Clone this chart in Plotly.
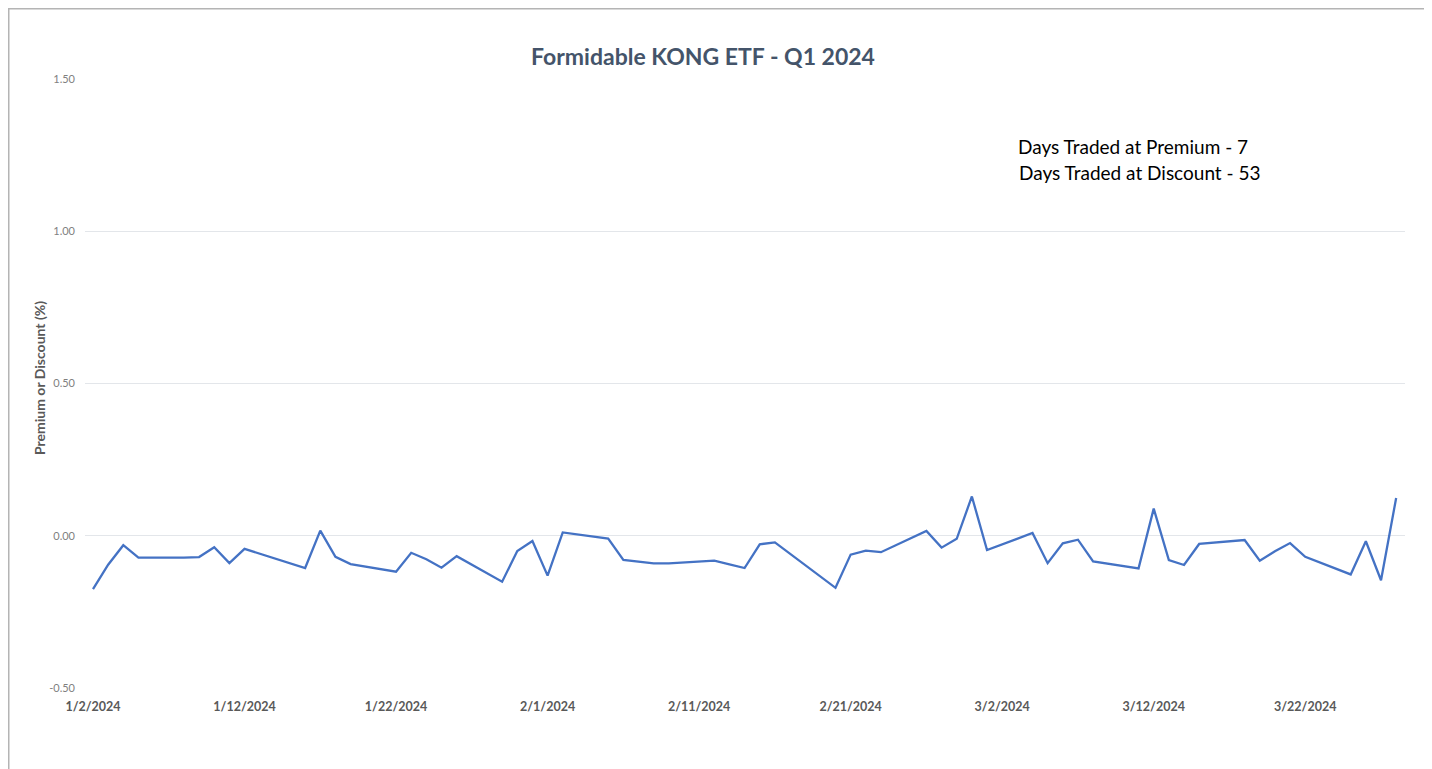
import plotly.graph_objects as go

dates = [
    "2024-01-02", "2024-01-03", "2024-01-04", "2024-01-05", "2024-01-08", "2024-01-09",
    "2024-01-10", "2024-01-11", "2024-01-12", "2024-01-16", "2024-01-17", "2024-01-18",
    "2024-01-19", "2024-01-22", "2024-01-23", "2024-01-24", "2024-01-25", "2024-01-26",
    "2024-01-29", "2024-01-30", "2024-01-31",
    "2024-02-01", "2024-02-02", "2024-02-05", "2024-02-06", "2024-02-07", "2024-02-08",
    "2024-02-09", "2024-02-12", "2024-02-13", "2024-02-14", "2024-02-15", "2024-02-16",
    "2024-02-20", "2024-02-21", "2024-02-22", "2024-02-23", "2024-02-26", "2024-02-27",
    "2024-02-28", "2024-02-29",
    "2024-03-01", "2024-03-04", "2024-03-05", "2024-03-06", "2024-03-07", "2024-03-08",
    "2024-03-11", "2024-03-12", "2024-03-13", "2024-03-14", "2024-03-15", "2024-03-18",
    "2024-03-19", "2024-03-20", "2024-03-21", "2024-03-22", "2024-03-25", "2024-03-26",
    "2024-03-27", "2024-03-28",
]

premium_discount = [
    -0.175, -0.095, -0.031, -0.072, -0.072, -0.070,
    -0.038, -0.090, -0.043, -0.106, 0.017, -0.069,
    -0.093, -0.118, -0.056, -0.077, -0.105, -0.067,
    -0.151, -0.050, -0.017,
    -0.131, 0.011, -0.009, -0.079, -0.086, -0.091,
    -0.091, -0.082, -0.094, -0.106, -0.028, -0.022,
    -0.171, -0.062, -0.049, -0.054, 0.016, -0.039,
    -0.010, 0.129,
    -0.047, 0.009, -0.090, -0.025, -0.013, -0.084,
    -0.107, 0.089, -0.080, -0.096, -0.027, -0.014,
    -0.082, -0.051, -0.024, -0.069, -0.127, -0.018,
    -0.146, 0.124,
]

x_tick_vals = ["2024-01-02", "2024-01-12", "2024-01-22", "2024-02-01", "2024-02-11",
               "2024-02-21", "2024-03-02", "2024-03-12", "2024-03-22"]
x_tick_text = ["1/2/2024", "1/12/2024", "1/22/2024", "2/1/2024", "2/11/2024",
               "2/21/2024", "3/2/2024", "3/12/2024", "3/22/2024"]
y_tick_vals = [-0.5, 0.0, 0.5, 1.0, 1.5]
y_tick_text = ["-0.50", "0.00", "0.50", "1.00", "1.50"]

title_text = "Formidable KONG ETF - Q1 2024"
y_title = "Premium or Discount (%)"
note_lines = ["Days Traded at Premium - 7", "Days Traded at Discount - 53"]

# page has an 8px body margin: work in figure pixel coords (= screen - 8)
W, H = 1418, 761
L, T = 77, 71
PR, PB = 1397, 680  # plot right / bottom in figure px
R, B = W - PR, H - PB
pw, ph = PR - L, PB - T

def px_x(p):
    return (p - L) / pw

def px_y(p):
    return (PB - p) / ph

FONT = "Lato, 'Open Sans', sans-serif"

fig = go.Figure()
fig.add_trace(go.Scatter(
    x=dates, y=premium_discount, mode="lines",
    line=dict(color="#4472C4", width=2.3),
    hoverinfo="x+y", showlegend=False,
))

fig.update_layout(
    width=W, height=H,
    margin=dict(l=L, r=R, t=T, b=B),
    paper_bgcolor="white", plot_bgcolor="white",
    font=dict(family=FONT),
    title=dict(text="<b>" + title_text + "</b>", x=px_x(695),
               xref="paper", xanchor="center",
               y=1 - 49 / H, yanchor="middle",
               font=dict(size=23, color="#44546A", family=FONT)),
    xaxis=dict(
        type="date",
        range=["2024-01-01 11:20", "2024-03-28 14:00"],
        tickmode="array", tickvals=x_tick_vals, ticktext=x_tick_text,
        tickfont=dict(size=12.5, color="#595959", family=FONT, weight="bold"),
        showgrid=False, zeroline=False, showline=False, ticks="", ticklen=0,
        ticklabelstandoff=9,
    ),
    yaxis=dict(
        range=[-0.5, 1.5],
        tickmode="array", tickvals=y_tick_vals, ticktext=y_tick_text,
        tickfont=dict(size=11, color="#7F7F7F"),
        showgrid=True, gridcolor="#E3E6EA", gridwidth=1,
        zeroline=False, showline=False, ticks="", ticklabelstandoff=9,
    ),
)

# y-axis title placed precisely
fig.add_annotation(x=px_x(31), y=px_y(370), xref="paper", yref="paper",
                   text="<b>" + y_title + "</b>", showarrow=False, textangle=-90,
                   xanchor="center", yanchor="middle",
                   font=dict(size=14, color="#595959", family=FONT))

fig.add_annotation(x=px_x(1008), y=px_y(138), xref="paper", yref="paper",
                   text=note_lines[0], showarrow=False, xanchor="left", yanchor="middle",
                   font=dict(size=19, color="#000000", family=FONT))
fig.add_annotation(x=px_x(1009), y=px_y(164), xref="paper", yref="paper",
                   text=note_lines[1], showarrow=False, xanchor="left", yanchor="middle",
                   font=dict(size=19, color="#000000", family=FONT))

fig.add_shape(type="rect", xref="paper", yref="paper",
              x0=px_x(0.75), x1=px_x(W - 0.75), y0=px_y(H + 20), y1=px_y(0.75),
              line=dict(color="#B4B4B4", width=1.5), fillcolor="rgba(0,0,0,0)", layer="below")

fig.write_html("out.html")
